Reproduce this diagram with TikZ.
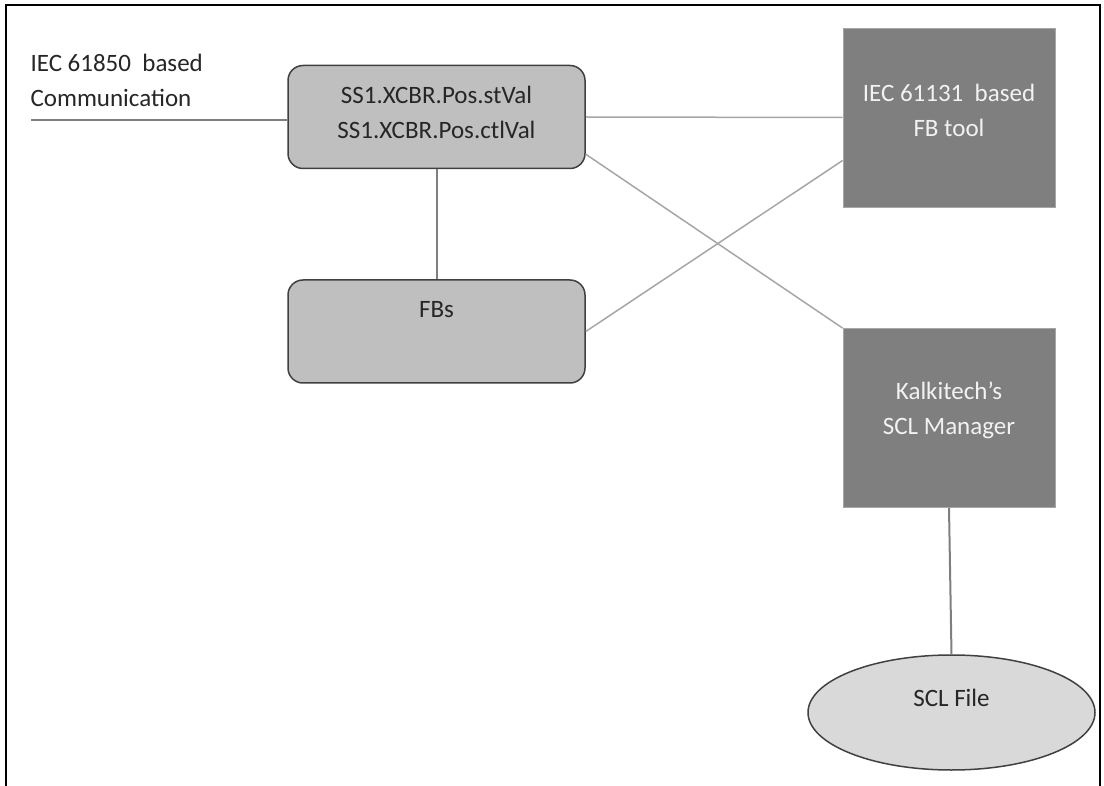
\documentclass[tikz,border=0pt]{standalone}
\usepackage{fontspec}
\setmainfont{Carlito}
\usetikzlibrary{shapes.geometric,calc}

\definecolor{boxlight}{HTML}{BFBFBF}
\definecolor{boxdark}{HTML}{7F7F7F}
\definecolor{filelight}{HTML}{D9D9D9}
\definecolor{edgedark}{HTML}{404040}
\definecolor{linklight}{HTML}{A6A6A6}
\definecolor{txtdark}{HTML}{262626}
\definecolor{txtlight}{HTML}{F2F2F2}

\tikzset{
    varbox/.style={draw=edgedark, line width=1.5pt, fill=boxlight, rounded corners=15pt,
        minimum width=297pt, minimum height=103pt},
    toolbox/.style={fill=boxdark, draw=linklight, line width=0.8pt,
        minimum width=212pt, minimum height=179pt},
    filebox/.style={ellipse, draw=edgedark, line width=1.5pt, fill=filelight,
        minimum width=287pt, minimum height=115pt},
    darktxt/.style={text=txtdark, align=center, font=\fontsize{25}{35}\selectfont},
    lighttxt/.style={text=txtlight, align=center, font=\fontsize{25}{35}\selectfont},
    boldlink/.style={draw=boxdark, line width=2pt},
    thinlink/.style={draw=linklight, line width=1.5pt}
}

\begin{document}
\begin{tikzpicture}[x=1pt,y=-1pt]

\useasboundingbox (0,0) rectangle (1104,786);

% Frame
\draw[line width=1.5pt] (6,786) -- (6,5) -- (1100,5) -- (1100,786);

% Boxes
\node[varbox] (ss1) at (436.5,117) {};
\node[varbox] (fbs) at (436.5,331.5) {};
\node[toolbox] (tool) at (949,117.5) {};
\node[toolbox] (kalki) at (949,418) {};
\node[filebox] (sclfile) at (951.5,712.5) {};

% Box texts
\node[darktxt, yshift=4.5pt] (ss1txt) at (ss1) {SS1.XCBR.Pos.stVal\\SS1.XCBR.Pos.ctlVal};
\node[darktxt, yshift=21.5pt] (fbstxt) at (fbs) {FBs};
\node[lighttxt, yshift=7pt] (tooltxt) at (tool) {IEC 61131\ \ based\\FB tool};
\node[lighttxt, yshift=7.5pt] (kalkitxt) at (kalki) {Kalkitech’s\\SCL Manager};
\node[darktxt, yshift=15pt] (filetxt) at (sclfile) {SCL File};

% Communication input
\node[darktxt, align=left, anchor=west] (commtxt) at (27,80) {IEC 61850\ \ based\\Communication};
\coordinate (comm) at (31,120);

% Links
\draw[boldlink] (comm) -- (comm -| ss1.west);
\draw[boldlink] (ss1.south) -- (fbs.north);
\draw[boldlink] (kalki.south) -- (sclfile.north);
\draw[thinlink] (ss1.east) -- (tool.west);
\draw[thinlink] (ss1.-14) -- (kalki.north west);
\draw[thinlink] (fbs.east) -- (tool.202);

\end{tikzpicture}
\end{document}
